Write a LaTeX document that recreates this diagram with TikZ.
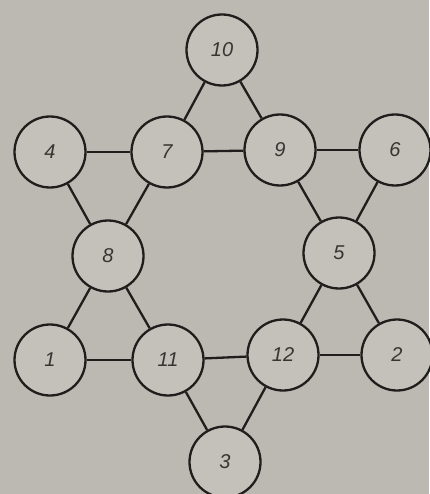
\documentclass[tikz,border=0pt]{standalone}
\usepackage{fontspec}
\setmainfont{Liberation Sans}
\definecolor{paper}{RGB}{188,184,178}
\definecolor{disc}{RGB}{196,192,186}
\definecolor{ink}{RGB}{32,30,28}
\definecolor{digit}{RGB}{55,52,50}
\begin{document}
\begin{tikzpicture}[x=1pt,y=-1pt,
  num/.style={circle,draw=ink,line width=2.3pt,fill=disc,minimum size=71pt,inner sep=0pt,
    font=\fontsize{20}{24}\selectfont\itshape,text=digit},
  link/.style={draw=ink,line width=2.3pt}]
\fill[paper] (0,0) rectangle (429,494);
\useasboundingbox (0,0) rectangle (429,494);
\node[num] (n10) at (222,50) {10};
\node[num] (n4) at (50,152) {4};
\node[num] (n7) at (167,152) {7};
\node[num] (n9) at (280,150) {9};
\node[num] (n6) at (395,150) {6};
\node[num] (n8) at (108,256) {8};
\node[num] (n5) at (339,253) {5};
\node[num] (n1) at (50,360) {1};
\node[num] (n11) at (168,360) {11};
\node[num] (n12) at (283,355) {12};
\node[num] (n2) at (397,355) {2};
\node[num] (n3) at (225,462) {3};
\foreach \a/\b in {n10/n7,n10/n9,n4/n7,n7/n9,n9/n6,n4/n8,n7/n8,n9/n5,n6/n5,n8/n1,n8/n11,n1/n11,n11/n12,n5/n12,n5/n2,n12/n2,n11/n3,n12/n3}
  \path[link] (\a) -- (\b);
\end{tikzpicture}
\end{document}
